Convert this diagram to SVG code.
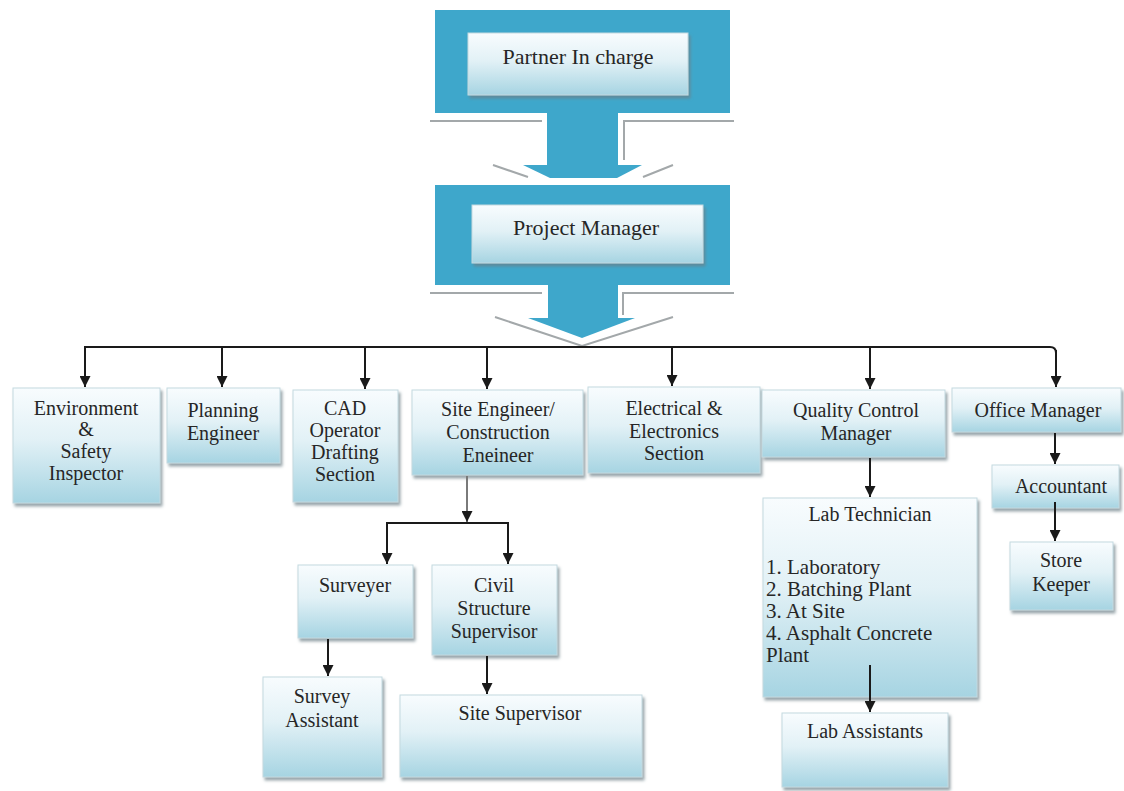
<svg xmlns="http://www.w3.org/2000/svg" width="1124" height="791" viewBox="0 0 1124 791">
<defs>
<linearGradient id="bx" x1="0" y1="0" x2="0" y2="1">
<stop offset="0" stop-color="#f8fcfe"/>
<stop offset="0.45" stop-color="#e2f1f6"/>
<stop offset="1" stop-color="#a6d4e2"/>
</linearGradient>
<filter id="sh" x="-10%" y="-10%" width="125%" height="130%">
<feDropShadow dx="2" dy="3" stdDeviation="1.5" flood-color="#6d7f86" flood-opacity="0.7"/>
</filter>
<marker id="ah" viewBox="0 0 10 10" refX="10" refY="5" markerWidth="11" markerHeight="11" markerUnits="userSpaceOnUse" orient="auto">
<path d="M0,0 L10,5 L0,10 Z" fill="#1a1a1a"/>
</marker>
</defs>
<style>
.box{fill:url(#bx);stroke:#c3d9e0;stroke-width:1;filter:url(#sh)}
.t{font-family:"Liberation Serif","Times New Roman",serif;font-size:20px;fill:#262626;text-anchor:middle}
.tl{font-family:"Liberation Serif","Times New Roman",serif;font-size:21px;fill:#262626}
.big{font-size:22px}
.blue{fill:#3ea7cb}
.shd{stroke:#a3a8aa;stroke-width:2;fill:none}
.c{stroke:#1a1a1a;stroke-width:2;fill:none}
</style>
<rect width="1124" height="791" fill="#ffffff"/>

<g id="top-arrows">
<path class="shd" d="M430,121 H542 M624,160 V121 H734"/>
<path class="shd" d="M493,165 L528,177 M673,165 L643,177"/>
<rect class="blue" x="435" y="10" width="295" height="103"/>
<rect class="blue" x="547" y="113" width="71" height="52"/>
<path class="blue" d="M523,165 H642 L617,178 H550 Z"/>
<path class="shd" d="M430,293 H542 M623,315 V293 H734"/>
<path class="shd" d="M495,317 L582,346 L673,317"/>
<rect class="blue" x="435" y="185" width="295" height="100"/>
<rect class="blue" x="548" y="285" width="70" height="33"/>
<path class="blue" d="M528,318 H635 L582,338 Z"/>
</g>

<g id="partner">
<rect class="box" x="468" y="33" width="220" height="62"/>
<text class="t big" x="578" y="64">Partner In charge</text>
</g>
<g id="pm">
<rect class="box" x="472" y="205" width="231" height="58"/>
<text class="t big" x="586" y="235">Project Manager</text>
</g>

<g id="env">
<rect class="box" x="13" y="388" width="147" height="115"/>
<text class="t" x="86" y="415">Environment</text>
<text class="t" x="86" y="436">&amp;</text>
<text class="t" x="86" y="458">Safety</text>
<text class="t" x="86" y="480">Inspector</text>
</g>
<g id="planning">
<rect class="box" x="167" y="388" width="113" height="75"/>
<text class="t" x="223" y="417">Planning</text>
<text class="t" x="223" y="440">Engineer</text>
</g>
<g id="cad">
<rect class="box" x="293" y="390" width="105" height="112"/>
<text class="t" x="345" y="415">CAD</text>
<text class="t" x="345" y="437">Operator</text>
<text class="t" x="345" y="459">Drafting</text>
<text class="t" x="345" y="481">Section</text>
</g>
<g id="site-engineer">
<rect class="box" x="412" y="390" width="171" height="85"/>
<text class="t" x="498" y="416">Site Engineer/</text>
<text class="t" x="498" y="439">Construction</text>
<text class="t" x="498" y="462">Eneineer</text>
</g>
<g id="electrical">
<rect class="box" x="588" y="387" width="172" height="86"/>
<text class="t" x="674" y="415">Electrical &amp;</text>
<text class="t" x="674" y="438">Electronics</text>
<text class="t" x="674" y="460">Section</text>
</g>
<g id="qc">
<rect class="box" x="762" y="390" width="183" height="67"/>
<text class="t" x="856" y="417">Quality Control</text>
<text class="t" x="856" y="440">Manager</text>
</g>
<g id="office">
<rect class="box" x="952" y="388" width="169" height="44"/>
<text class="t" x="1038" y="417">Office Manager</text>
</g>
<g id="accountant">
<rect class="box" x="992" y="465" width="127" height="43"/>
<text class="t" x="1061" y="493">Accountant</text>
</g>
<g id="store">
<rect class="box" x="1010" y="542" width="103" height="68"/>
<text class="t" x="1061" y="567">Store</text>
<text class="t" x="1061" y="591">Keeper</text>
</g>
<g id="lab-tech">
<rect class="box" x="763" y="498" width="214" height="199"/>
<text class="t" x="870" y="521">Lab Technician</text>
<text class="tl" x="766" y="574">1. Laboratory</text>
<text class="tl" x="766" y="596">2. Batching Plant</text>
<text class="tl" x="766" y="618">3. At Site</text>
<text class="tl" x="766" y="640">4. Asphalt Concrete</text>
<text class="tl" x="766" y="662">Plant</text>
</g>
<g id="lab-assistants">
<rect class="box" x="782" y="713" width="166" height="74"/>
<text class="t" x="865" y="738">Lab Assistants</text>
</g>
<g id="surveyer">
<rect class="box" x="298" y="565" width="115" height="73"/>
<text class="t" x="355" y="592">Surveyer</text>
</g>
<g id="civil">
<rect class="box" x="432" y="565" width="125" height="90"/>
<text class="t" x="494" y="592">Civil</text>
<text class="t" x="494" y="615">Structure</text>
<text class="t" x="494" y="638">Supervisor</text>
</g>
<g id="survey-assistant">
<rect class="box" x="263" y="677" width="119" height="100"/>
<text class="t" x="322" y="703">Survey</text>
<text class="t" x="322" y="727">Assistant</text>
</g>
<g id="site-supervisor">
<rect class="box" x="400" y="695" width="242" height="82"/>
<text class="t" x="520" y="720">Site Supervisor</text>
</g>

<g id="connectors">
<path class="c" d="M85,386 V347 H1050 Q1056,347 1056,353"/>
<line class="c" x1="85" y1="347" x2="85" y2="387" marker-end="url(#ah)"/>
<line class="c" x1="222" y1="347" x2="222" y2="387" marker-end="url(#ah)"/>
<line class="c" x1="365" y1="347" x2="365" y2="389" marker-end="url(#ah)"/>
<line class="c" x1="487" y1="347" x2="487" y2="389" marker-end="url(#ah)"/>
<line class="c" x1="672" y1="347" x2="672" y2="386" marker-end="url(#ah)"/>
<line class="c" x1="870" y1="347" x2="870" y2="389" marker-end="url(#ah)"/>
<line class="c" x1="1056" y1="350" x2="1056" y2="387" marker-end="url(#ah)"/>
<line x1="467" y1="476" x2="467" y2="522" stroke="#7a7a7a" stroke-width="2" marker-end="url(#ah)"/>
<path class="c" d="M387,564 V523 H508 V564"/>
<line class="c" x1="387" y1="540" x2="387" y2="564" marker-end="url(#ah)"/>
<line class="c" x1="508" y1="540" x2="508" y2="564" marker-end="url(#ah)"/>
<line class="c" x1="328" y1="639" x2="328" y2="676" marker-end="url(#ah)"/>
<line class="c" x1="487" y1="656" x2="487" y2="694" marker-end="url(#ah)"/>
<line class="c" x1="870" y1="458" x2="870" y2="497" marker-end="url(#ah)"/>
<line class="c" x1="870" y1="665" x2="870" y2="712" marker-end="url(#ah)"/>
<line class="c" x1="1055" y1="433" x2="1055" y2="464" marker-end="url(#ah)"/>
<line class="c" x1="1055" y1="502" x2="1055" y2="541" marker-end="url(#ah)"/>
</g>
</svg>
